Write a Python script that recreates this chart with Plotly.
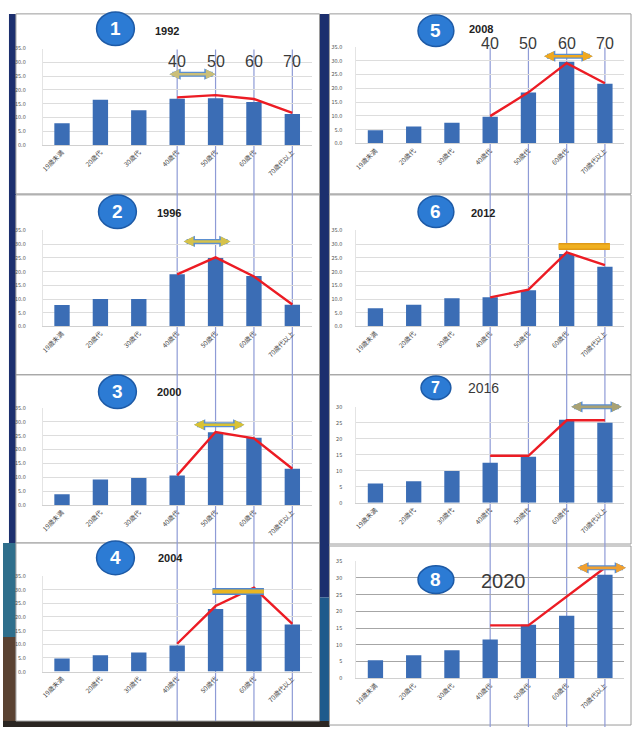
import plotly.graph_objects as go

W, H = 633, 731

# ---- data -------------------------------------------------------------
ages = ["19歳未満", "20歳代", "30歳代", "40歳代", "50歳代", "60歳代", "70歳代以上"]
years = ["1992", "1996", "2000", "2004", "2008", "2012", "2016", "2020"]
panel_no = ["1", "2", "3", "4", "5", "6", "7", "8"]

share_1992 = [7.9, 16.4, 12.6, 16.8, 17.0, 15.6, 11.3]
share_1996 = [7.8, 10.0, 10.0, 19.0, 25.0, 18.4, 7.9]
share_2000 = [3.9, 9.2, 9.8, 10.7, 26.2, 24.2, 13.1]
share_2004 = [4.8, 6.0, 7.0, 9.6, 22.9, 29.9, 17.2]
share_2008 = [4.8, 6.1, 7.5, 9.7, 18.5, 29.6, 21.6]
share_2012 = [6.6, 7.9, 10.3, 10.6, 13.2, 26.4, 21.8]
share_2016 = [6.0, 6.7, 9.9, 12.5, 14.4, 26.0, 25.0]
share_2020 = [5.4, 6.9, 8.4, 11.6, 16.0, 18.7, 30.9]
shares = [share_1992, share_1996, share_2000, share_2004,
          share_2008, share_2012, share_2016, share_2020]

# red trend line over the 40s-70s
trend_ages = ["40歳代", "50歳代", "60歳代", "70歳代以上"]
trend_ages_2020 = ["40歳代", "50歳代", "70歳代以上"]
trend_1992 = [17.3, 18.1, 16.7, 11.7]
trend_1996 = [19.0, 25.2, 18.2, 8.0]
trend_2000 = [10.7, 26.3, 24.0, 13.1]
trend_2004 = [10.2, 24.0, 30.7, 17.5]
trend_2008 = [9.9, 18.5, 29.1, 21.8]
trend_2012 = [10.6, 13.4, 27.0, 22.4]
trend_2016 = [14.7, 14.7, 25.8, 25.8]
trend_2020 = [15.8, 15.8, 33.0]
trend_x = [trend_ages] * 7 + [trend_ages_2020]
trend_y = [trend_1992, trend_1996, trend_2000, trend_2004,
           trend_2008, trend_2012, trend_2016, trend_2020]

# peak band (category index from/to, height)
span_from = [2.76, 3.13, 3.40, 3.92, 4.37, 4.79, 5.08, 5.24]
span_to = [4.00, 4.39, 4.75, 5.26, 5.68, 6.13, 6.44, 6.55]
span_level = [25.7, 31.0, 28.9, 29.3, 31.6, 29.2, 30.0, 33.0]

decade_marks = ["40", "50", "60", "70"]
y_top = [35, 35, 35, 35, 35, 35, 30, 35]

# ---- layout geometry (pixels) ------------------------------------------
col_of = [0, 0, 0, 0, 1, 1, 1, 1]
col_x = [(40, 310), (355, 624)]
label_gap = [15, 12]
plot_y = [(45, 142.7), (229, 326), (408.3, 506.7), (578.3, 675),
          (43.3, 141), (229, 326), (407.3, 504.3), (563.3, 681.7)]
boxes = [(13, 10, 318, 192), (13, 193, 318, 375), (13, 375, 318, 545), (13, 545, 318, 725),
         (328, 10, 631, 192), (328, 193, 631, 375), (328, 375, 631, 546), (328, 548, 631, 729)]
badge = [(113, 25, 19, 17), (115, 210, 19, 17), (115, 392, 19, 17), (113, 560, 19, 17),
         (435, 27, 18, 16), (435, 210, 18, 16), (435, 388, 15, 12), (435, 582, 18, 14)]
title_pos = [(165, 27), (167, 211), (167, 392), (168, 560),
             (480, 25), (482, 211), (483, 388), (503, 583)]
title_font = [dict(size=11, bold=True)] * 6 + [dict(size=14, bold=False), dict(size=20, bold=False)]
span_fill = ["#cbbf78", "#d6c24a", "#d9c233", "#e9b522", "#f0a81e", "#f0b020", "#a9a274", "#f0a030"]
span_heads = [True, True, True, False, True, False, True, True]
grid_col = ["#dddddd"] * 7 + ["#a6a6a6"]

BAR = "#3b6db5"
RED = "#ec1c24"
GUIDE = "#8e9bd6"
NAVY = "#1c2f6e"


def fx(x):
    return x / W


def fy(y):
    return 1 - y / H


fig = go.Figure()
shapes = []
annotations = []

# background panels and frame strips
shapes.append(dict(type="rect", xref="paper", yref="paper", layer="below",
                   x0=fx(6), x1=fx(13), y0=fy(545), y1=fy(10), fillcolor=NAVY, line_width=0))
shapes.append(dict(type="rect", xref="paper", yref="paper", layer="below",
                   x0=0, x1=fx(13), y0=fy(640), y1=fy(545), fillcolor="#2f6f8c", line_width=0))
shapes.append(dict(type="rect", xref="paper", yref="paper", layer="below",
                   x0=0, x1=fx(13), y0=0, y1=fy(640), fillcolor="#5a4232", line_width=0))
shapes.append(dict(type="rect", xref="paper", yref="paper", layer="below",
                   x0=fx(318), x1=fx(328), y0=fy(600), y1=fy(10), fillcolor=NAVY, line_width=0))
shapes.append(dict(type="rect", xref="paper", yref="paper", layer="below",
                   x0=fx(318), x1=fx(328), y0=0, y1=fy(600), fillcolor="#1f5a8c", line_width=0))
shapes.append(dict(type="rect", xref="paper", yref="paper", layer="below",
                   x0=0, x1=fx(328), y0=0, y1=fy(725), fillcolor="#2b2622", line_width=0))
for (x0, y0, x1, y1) in boxes:
    shapes.append(dict(type="rect", xref="paper", yref="paper", layer="below",
                       x0=fx(x0), x1=fx(x1), y0=fy(y1), y1=fy(y0),
                       fillcolor="white", line=dict(color="#9a9a9a", width=1)))

# decade guide lines running through each column
for c, (xa, top, bottom, label_y) in enumerate([("x", 46, 725, 58), ("x5", 44, 731, 40)]):
    for k, mark in enumerate(decade_marks):
        shapes.append(dict(type="line", xref=xa, yref="paper", layer="below",
                           x0=3 + k, x1=3 + k, y0=fy(bottom), y1=fy(top),
                           line=dict(color=GUIDE, width=1.2)))
        annotations.append(dict(xref=xa, yref="paper", x=3 + k, y=fy(label_y),
                                xanchor="center", yanchor="middle",
                                text=mark, showarrow=False,
                                font=dict(size=16, color="#3a3a3a", family="Liberation Sans")))

for i in range(8):
    s = "" if i == 0 else str(i + 1)
    xa, ya = "x" + s, "y" + s
    c0, c1 = col_x[col_of[i]]
    top, zero = plot_y[i]

    fig.add_trace(go.Bar(x=ages, y=shares[i], xaxis=xa, yaxis=ya,
                         marker=dict(color=BAR, line_width=0), width=0.4,
                         hoverinfo="x+y"))
    fig.add_trace(go.Scatter(x=trend_x[i], y=trend_y[i], xaxis=xa, yaxis=ya,
                             mode="lines", line=dict(color=RED, width=2.4),
                             hoverinfo="skip"))

    fig.layout["xaxis" + s] = dict(
        domain=[fx(c0), fx(c1)], anchor=ya, type="category",
        categoryorder="array", categoryarray=ages, range=[-0.5, 6.5],
        tickangle=-45, tickfont=dict(size=6.5, color="#444444"),
        showgrid=False, showline=True, linecolor="#d0d0d0", ticks="",
        fixedrange=True)
    fig.layout["yaxis" + s] = dict(
        domain=[fy(zero), fy(top)], anchor=xa, range=[0, y_top[i]], dtick=5,
        tickformat=".1f" if i < 6 else "d",
        tickfont=dict(size=5.5, color="#555555"), ticklabelstandoff=label_gap[col_of[i]],
        showgrid=True, gridcolor=grid_col[i], gridwidth=1 if i < 7 else 1.3,
        zeroline=False, showline=True, linecolor="#e4e4e4", ticks="",
        fixedrange=True)

    # peak band: outlined double arrow or plain bar
    if span_heads[i]:
        for colr, wdt, size in [("#5b8fd0", 5, 0.45), (span_fill[i], 2.6, 0.75)]:
            annotations.append(dict(
                xref=xa, yref=ya, axref=xa, ayref=ya,
                x=span_to[i], y=span_level[i], ax=span_from[i], ay=span_level[i],
                text="", showarrow=True, arrowside="end+start",
                arrowhead=2, startarrowhead=2, arrowsize=size, startarrowsize=size,
                arrowwidth=wdt, arrowcolor=colr, standoff=0, startstandoff=0))
    else:
        outline = "#4f86cf" if i == 3 else "#e09a18"
        for colr, wdt in [(outline, 7), (span_fill[i], 4)]:
            shapes.append(dict(type="line", xref=xa, yref=ya, layer="above",
                               x0=span_from[i], x1=span_to[i],
                               y0=span_level[i], y1=span_level[i],
                               line=dict(color=colr, width=wdt)))

    # numbered badge and year
    bx, by, rx, ry = badge[i]
    shapes.append(dict(type="circle", xref="paper", yref="paper", layer="above",
                       x0=fx(bx - rx), x1=fx(bx + rx), y0=fy(by + ry), y1=fy(by - ry),
                       fillcolor="#2c7bd4", line=dict(color="#1d5aa6", width=1.5)))
    annotations.append(dict(xref="paper", yref="paper", x=fx(bx), y=fy(by),
                            xanchor="center", yanchor="middle",
                            text="<b>%s</b>" % panel_no[i], showarrow=False,
                            font=dict(size=19 if ry > 13 else 16, color="white",
                                      family="Liberation Sans")))
    tx, ty = title_pos[i]
    tf = title_font[i]
    annotations.append(dict(xref="paper", yref="paper", x=fx(tx), y=fy(ty),
                            xanchor="center", yanchor="middle",
                            text=("<b>%s</b>" % years[i]) if tf["bold"] else years[i],
                            showarrow=False,
                            font=dict(size=tf["size"], color="#222222" if tf["bold"] else "#3a3a3a",
                                      family="Liberation Sans")))

fig.update_layout(
    width=W, height=H, margin=dict(l=0, r=0, t=0, b=0),
    paper_bgcolor="white", plot_bgcolor="rgba(0,0,0,0)",
    showlegend=False, bargap=0.6,
    font=dict(family="Noto Sans CJK JP, Liberation Sans, sans-serif"),
    shapes=shapes, annotations=annotations,
)

fig.write_html("out.html")
